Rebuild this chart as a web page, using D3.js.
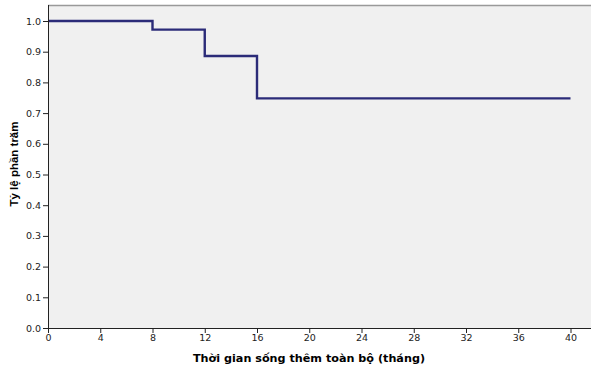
<!DOCTYPE html>
<html>
<head>
<meta charset="utf-8">
<script src="https://cdn.jsdelivr.net/npm/d3@7"></script>
<style>
  body { margin: 0; background: #fff; }
  text { font-family: "Liberation Sans", Arial, sans-serif; }
</style>
</head>
<body>
<div id="chart"></div>
<script>
// Kaplan-Meier step curve
const stepTimes = [0, 8, 12, 16, 40];
const survival = [1.0, 0.972, 0.886, 0.748, 0.748];
const xTicks = [0, 4, 8, 12, 16, 20, 24, 28, 32, 36, 40];
const yTicks = [0, 0.1, 0.2, 0.3, 0.4, 0.5, 0.6, 0.7, 0.8, 0.9, 1.0];

const width = 591, height = 368;
const plotLeft = 48, plotTop = 5, plotRight = 591, plotBottom = 328;

const svg = d3.select("#chart").append("svg")
  .attr("width", width)
  .attr("height", height);

const x = d3.scaleLinear().domain([0, 40]).range([plotLeft, 570.5]);
const y = d3.scaleLinear().domain([0, 1]).range([plotBottom, 21]);

// plot background
svg.append("rect")
  .attr("x", plotLeft).attr("y", plotTop)
  .attr("width", plotRight - plotLeft).attr("height", plotBottom - plotTop)
  .attr("fill", "#f0f0f0");

svg.append("line")
  .attr("x1", plotLeft).attr("x2", plotRight)
  .attr("y1", plotTop + 0.5).attr("y2", plotTop + 0.5)
  .attr("stroke", "#999").attr("stroke-width", 1.5);

// survival curve
const pts = stepTimes.map((t, i) => [t, survival[i]]);
svg.append("path")
  .datum(pts)
  .attr("fill", "none")
  .attr("stroke", "#2b2b78")
  .attr("stroke-width", 2.4)
  .attr("d", d3.line().x(d => x(d[0])).y(d => y(d[1])).curve(d3.curveStepAfter));

// axes
const xAxis = svg.append("g")
  .attr("transform", `translate(0,${plotBottom})`)
  .call(d3.axisBottom(x).tickValues(xTicks).tickSize(5).tickSizeOuter(0).tickPadding(1));
xAxis.select(".domain").attr("d", `M${plotLeft},0.5H${plotRight}`);

const yAxis = svg.append("g")
  .attr("transform", `translate(${plotLeft},0)`)
  .call(d3.axisLeft(y).tickValues(yTicks).tickFormat(d3.format(".1f")).tickSize(5).tickSizeOuter(0).tickPadding(2));
yAxis.select(".domain").attr("d", `M0.5,${plotTop}V${plotBottom}`);

svg.selectAll(".tick text")
  .attr("font-size", 9.5)
  .attr("fill", "#222")
  .style("font-family", "'DejaVu Sans', sans-serif");
svg.selectAll(".tick line").attr("stroke", "#222");
svg.selectAll(".domain").attr("stroke", "#222");

// axis titles
svg.append("text")
  .attr("x", 309).attr("y", 362)
  .attr("text-anchor", "middle")
  .attr("font-size", 11.2).attr("font-weight", "bold")
  .style("font-family", "'DejaVu Sans', sans-serif")
  .text("Thời gian sống thêm toàn bộ (tháng)");

svg.append("text")
  .attr("transform", "translate(18,164) rotate(-90)")
  .attr("text-anchor", "middle")
  .attr("font-size", 11.5).attr("font-weight", "bold")
  .text("Tỷ lệ phần trăm");
</script>
</body>
</html>
